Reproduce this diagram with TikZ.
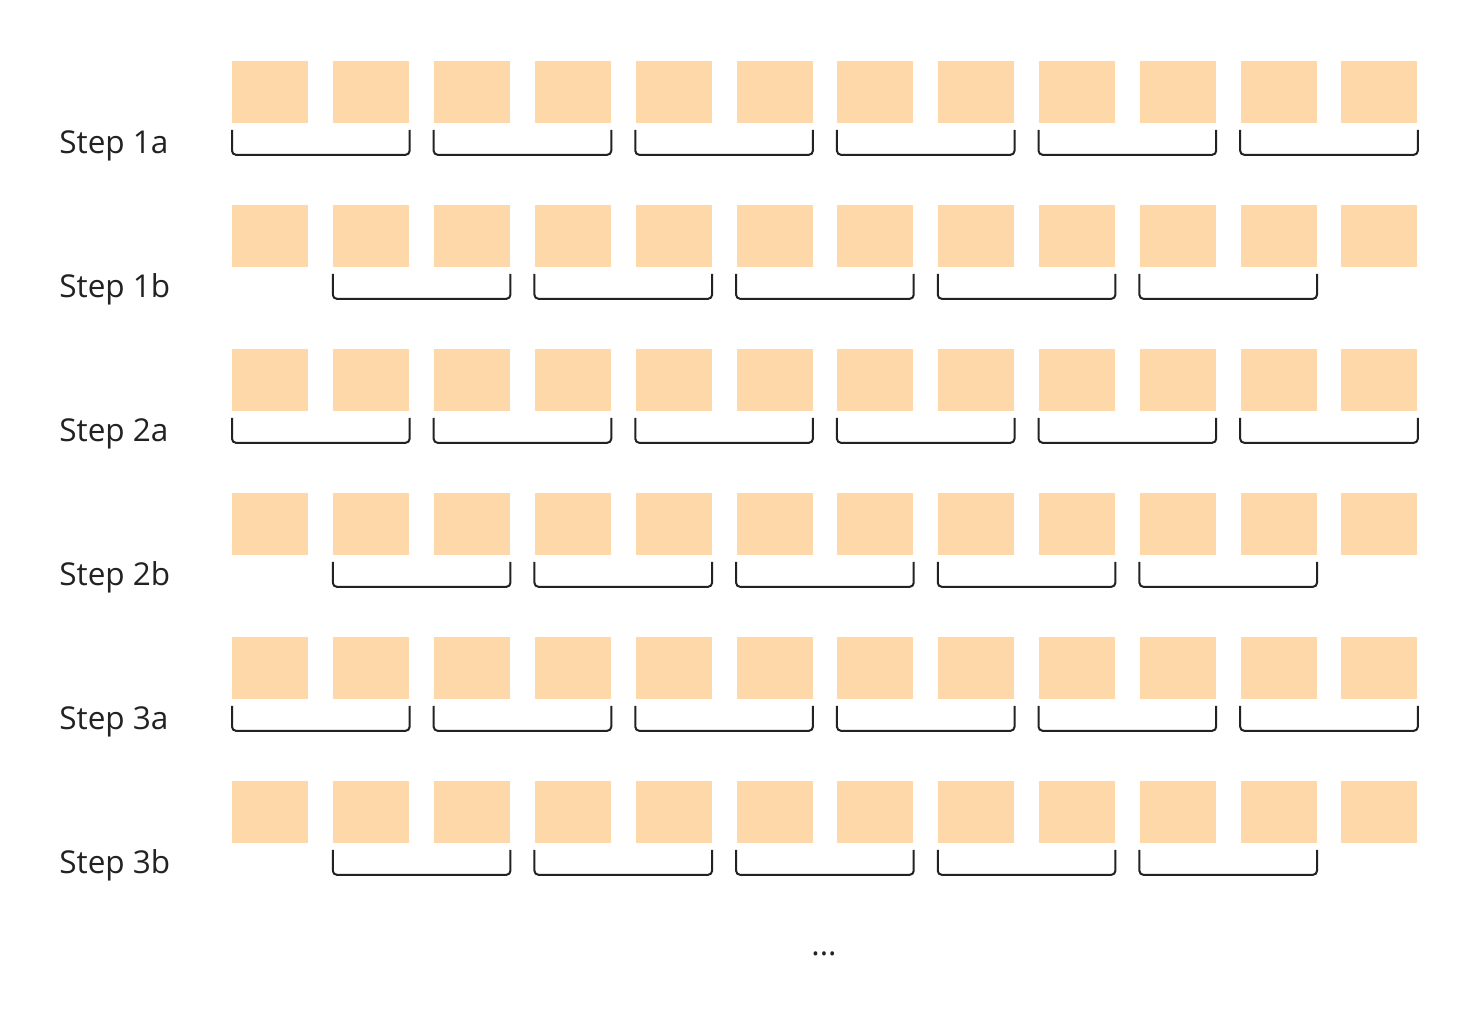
\documentclass[tikz,border=0pt]{standalone}
\usepackage{fontspec}
\setmainfont{Open Sans}
\usetikzlibrary{positioning}
\definecolor{cellfill}{RGB}{255,216,170}
\definecolor{inkgray}{RGB}{34,34,34}
\tikzset{
    x=0.5pt, y=-0.5pt, % one unit is one pixel of the layout, y runs down
    cell/.style={fill=cellfill, minimum width=38pt, minimum height=31pt, inner sep=0pt, anchor=north west}, % the orange squares
    brace/.style={draw=inkgray, line width=1pt, rounded corners=2pt}, % the bracket under a pair of squares
    steplabel/.style={font=\fontsize{15.75}{18}\selectfont, text=inkgray, inner sep=0pt, anchor=base west}, % row names
    }

\begin{document}
\begin{tikzpicture}
    \fill[white] (0,0) rectangle (1478,1018);
    \useasboundingbox (0,0) rectangle (1478,1018);
    % rows of squares with their names
    \foreach \lab [count=\r] in {1a,1b,2a,2b,3a,3b}{
        \node[steplabel] (label\r) at (59,{153+144*(\r-1)}) {Step \lab};
        \foreach \i in {1,...,12}
            \node[cell] (c\r-\i) at ({232+100.82*(\i-1)},{61+144*(\r-1)}) {};
    }
    % a steps: pairs start at the first square
    \foreach \r in {1,3,5}
        \foreach \i in {1,3,...,11}{
            \pgfmathtruncatemacro\j{\i+1}
            \draw[brace] ([yshift=-3pt]c\r-\i.south west) |- ([yshift=-15.5pt]c\r-\j.south east) -- ([yshift=-3pt]c\r-\j.south east);
        }
    % b steps: pairs start at the second square
    \foreach \r in {2,4,6}
        \foreach \i in {2,4,...,10}{
            \pgfmathtruncatemacro\j{\i+1}
            \draw[brace] ([yshift=-3pt]c\r-\i.south west) |- ([yshift=-15.5pt]c\r-\j.south east) -- ([yshift=-3pt]c\r-\j.south east);
        }
    \node[steplabel, anchor=base] (more) at (824,955) {...};
\end{tikzpicture}
\end{document}
